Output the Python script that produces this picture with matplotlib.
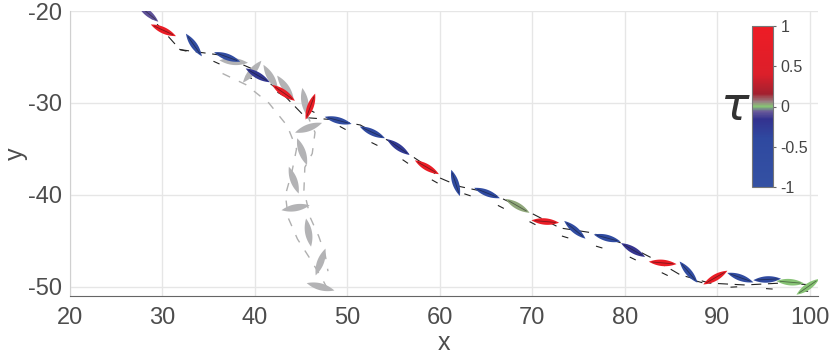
import numpy as np
import matplotlib.pyplot as plt
from matplotlib.colors import LinearSegmentedColormap, Normalize
from matplotlib.patches import Polygon
import matplotlib as mpl

plt.rcParams['font.family'] = ['Liberation Sans', 'DejaVu Sans']

# coloured swimmer snapshots
sx = [28.4, 30.1, 33.4, 37.0, 40.3, 43.1, 46.0, 49.0, 52.7, 55.5, 58.6, 61.7, 65.1,
      68.4, 71.4, 74.6, 78.1, 80.9, 84.1, 86.9, 89.8, 92.5, 95.4, 97.9, 99.8]
sy = [-20.2, -22.1, -23.7, -25.0, -27.0, -28.9, -30.4, -31.9, -33.2, -34.8, -37.0, -38.7, -39.8,
      -41.2, -42.9, -43.8, -44.7, -46.0, -47.4, -48.4, -49.0, -49.0, -49.2, -49.5, -50.0]
sang = [-40, -25, -55, -20, -30, -35, 70, -15, -25, -35, -30, -72, -22,
        -30, -5, -40, -15, -30, -5, -50, 30, -20, 3, -5, 35]
tau = [-0.08, 0.85, -0.7, -0.6, -0.2, 0.85, 0.85, -0.6, -0.5, -0.25, 0.85, -0.6, -0.55,
       0.03, 0.85, -0.6, -0.55, -0.15, 0.85, -0.65, 0.85, -0.6, -0.5, 0.0, 0.0]

# gray swimmer snapshots
gx = [37.7, 39.7, 41.7, 43.3, 45.4, 45.8, 45.1, 44.2, 44.4, 45.8, 47.1, 47.1]
gy = [-25.5, -26.6, -27.2, -28.3, -29.9, -32.7, -35.3, -38.4, -41.4, -44.1, -47.3, -50.0]
gang = [-5, 50, -60, -55, -80, 20, -70, -70, 10, -80, 70, -15]

# dashed tracks
path_x = [28.2, 30.3, 31.9, 36.3, 39.5, 42.8, 45.5, 48.2, 51.4, 54.6, 57.9, 60.1, 62.2,
          65.5, 68.2, 70.3, 73.0, 76.3, 80.1, 82.8, 86.0, 89.2, 93.0, 96.8, 100.6]
path_y = [-20.1, -22.4, -24.2, -24.8, -26.2, -28.8, -31.6, -31.8, -32.4, -34.2, -36.4, -38.2, -39.1,
          -39.8, -41.1, -42.2, -43.6, -44.1, -45.4, -46.8, -48.7, -49.6, -49.8, -49.6, -49.8]
low_x = [31.9, 33.6, 40.0, 50.0, 55.0, 59.2, 60.6, 66.0, 72.0, 73.6, 80.0, 84.9, 86.8, 90.3, 92.2, 100.0]
low_y = [-24.2, -24.6, -27.5, -33.0, -35.5, -38.4, -39.2, -41.0, -44.1, -44.6, -46.5, -48.9, -49.1, -50.1, -50.0, -50.5]
gl_x = [36.5, 39.0, 41.5, 43.5, 44.5, 44.0, 43.3, 43.6, 44.6, 46.0, 47.2, 48.0]
gl_y = [-26.8, -28.0, -30.0, -32.5, -35.0, -37.5, -40.0, -42.5, -44.8, -47.0, -49.0, -50.5]
gr_x = [45.6, 46.5, 46.2, 45.4, 45.3, 46.0, 46.9, 47.6, 47.9]
gr_y = [-31.2, -33.2, -35.5, -37.0, -39.5, -42.5, -44.5, -46.5, -48.3]

tau_colors = [(0.0, '#3451a3'), (0.3, '#2f49a0'), (0.42, '#33328f'), (0.47, '#6a5a9a'),
              (0.5, '#86c874'), (0.53, '#9a7f82'), (0.58, '#a3202f'), (0.7, '#dc1f2a'),
              (1.0, '#ee1c25')]
cmap = LinearSegmentedColormap.from_list('tau', tau_colors)
norm = Normalize(-1, 1)


def lens(x, y, ang, length=3.0, width=0.7):
    t = np.linspace(-1, 1, 30)
    hw = width / 2 * (1 - t ** 2)
    px = np.concatenate([t, t[::-1]]) * length / 2
    py = np.concatenate([hw, -hw[::-1]])
    a = np.deg2rad(ang)
    return np.column_stack([x + px * np.cos(a) - py * np.sin(a), y + px * np.sin(a) + py * np.cos(a)])


fig = plt.figure(figsize=(8.31, 3.56), dpi=100)
ax = fig.add_axes([70 / 831, 1 - 296 / 356, 748 / 831, 285 / 356])

ax.plot(path_x, path_y, color='#222222', lw=0.8, dashes=(9, 6), zorder=2)
ax.plot(low_x, low_y, color='#222222', lw=0.8, dashes=(6, 26), zorder=2)
ax.plot(gl_x, gl_y, color='#b0b0b0', lw=1.0, dashes=(6, 7), zorder=2)
ax.plot(gr_x, gr_y, color='#b0b0b0', lw=1.0, dashes=(6, 7), zorder=2)

for x, y, a in zip(gx, gy, gang):
    ax.add_patch(Polygon(lens(x, y, a, 3.1, 0.75), closed=True, fc='#b3b3b5', ec='none', zorder=3))

for x, y, a, t in zip(sx, sy, sang, tau):
    ax.add_patch(Polygon(lens(x, y, a), closed=True, fc=cmap(norm(t)), ec='none', zorder=4))
    r = np.deg2rad(a)
    ax.plot([x - 1.1 * np.cos(r), x + 1.1 * np.cos(r)], [y - 1.1 * np.sin(r), y + 1.1 * np.sin(r)],
            color='#111111', lw=0.6, alpha=0.5, zorder=5)

ax.set_xlim(20, 100.9)
ax.set_ylim(-51, -20)
ax.set_xticks([20, 30, 40, 50, 60, 70, 80, 90, 100])
ax.set_yticks([-50, -40, -30, -20])
ax.set_yticklabels(['-50', '-40', '-30', '-20'])
ax.grid(True, color='#e6e6e6', lw=1)
ax.set_axisbelow(True)
ax.tick_params(length=0, labelsize=17, labelcolor='#4d4d4d')
ax.tick_params(axis='x', pad=8)
ax.tick_params(axis='y', pad=6)
for s in ['top', 'right']:
    ax.spines[s].set_visible(False)
ax.spines['left'].set_color('#d0d0d0')
ax.spines['bottom'].set_color('#666666')
ax.set_xlabel('x', fontsize=18, color='#4d4d4d', labelpad=1)
ax.set_ylabel('y', fontsize=18, color='#4d4d4d', labelpad=0)

cax = fig.add_axes([752 / 831, 1 - 187 / 356, 21 / 831, 161 / 356])
cb = fig.colorbar(mpl.cm.ScalarMappable(norm=norm, cmap=cmap), cax=cax, ticks=[-1, -0.5, 0, 0.5, 1])
cb.ax.set_yticklabels(['-1', '-0.5', '0', '0.5', '1'])
cb.ax.tick_params(length=2, labelsize=11.5, labelcolor='#444444', color='#666666')
cb.outline.set_edgecolor('#777777')
fig.text(735 / 831, 1 - 108 / 356, r'$\tau$', fontsize=34, color='#333333', ha='center', va='center')

fig.savefig('out.png', dpi=100)
